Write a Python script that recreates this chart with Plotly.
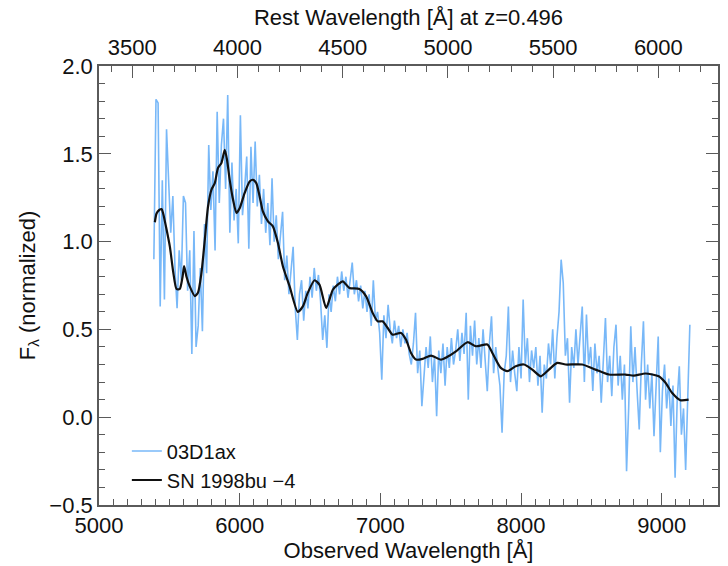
import numpy as np
import plotly.graph_objects as go

Z = 0.496

# Template spectrum SN 1998bu (-4 d): observed wavelength [A], normalized flux
tmpl_wave = [5397, 5409, 5428, 5445, 5456, 5480, 5504, 5527, 5551, 5574, 5594, 5605, 5622, 5645,
             5681, 5704, 5728, 5752, 5775, 5799, 5823, 5846, 5870, 5894, 5910, 5929, 5953, 5977,
             6000, 6035, 6071, 6094, 6118, 6142, 6165, 6201, 6236, 6272, 6307, 6355, 6413, 6449,
             6484, 6532, 6567, 6615, 6662, 6697, 6733, 6780, 6851, 6899, 6945, 6981, 7016, 7052,
             7087, 7147, 7182, 7218, 7253, 7300, 7360, 7430, 7477, 7537, 7619, 7679, 7761, 7796,
             7856, 7903, 7962, 8021, 8080, 8140, 8198, 8257, 8317, 8435, 8530, 8624, 8743, 8802,
             8885, 8979, 9027, 9073, 9132, 9191]
tmpl_flux = [1.11, 1.16, 1.18, 1.185, 1.16, 1.07, 0.97, 0.83, 0.73, 0.73, 0.80, 0.86, 0.80, 0.745,
             0.69, 0.71, 0.82, 1.01, 1.20, 1.295, 1.333, 1.42, 1.447, 1.523, 1.466, 1.352, 1.238, 1.163,
             1.19, 1.276, 1.342, 1.352, 1.333, 1.257, 1.172, 1.115, 1.087, 0.992, 0.86, 0.745, 0.60, 0.631,
             0.708, 0.78, 0.755, 0.622, 0.726, 0.755, 0.774, 0.736, 0.73, 0.688, 0.594, 0.546, 0.546, 0.508,
             0.47, 0.48, 0.442, 0.366, 0.328, 0.332, 0.351, 0.328, 0.344, 0.375, 0.427, 0.404, 0.414, 0.366,
             0.281, 0.262, 0.29, 0.30, 0.271, 0.233, 0.271, 0.309, 0.30, 0.30, 0.271, 0.243, 0.243, 0.237,
             0.249, 0.233, 0.196, 0.139, 0.097, 0.10]

# Observed spectrum 03D1ax: sampled every 15 A starting at 5390 A
obs_start = 5390
obs_step = 15
obs_flux = [
    0.90, 1.81, 1.79, 0.63, 1.35, 0.67, 1.64, 1.35,        # 5390
    1.05, 1.26, 0.85, 0.62, 0.95, 0.78,                    # 5510
    1.26, 1.22, 0.72, 0.95, 0.36, 1.06, 0.40,              # 5600
    0.52, 0.85, 0.49, 1.10, 0.82, 1.55, 1.18,              # 5705
    1.40, 0.95, 1.74, 1.22, 1.55, 1.70,                    # 5810
    1.30, 1.835, 1.05, 1.45, 1.12, 1.30, 0.99,             # 5900
    1.72, 1.15, 1.30, 1.485, 0.96, 1.54, 1.22,             # 6005
    1.57, 1.20, 1.38, 1.10, 1.30, 1.05,                    # 6110
    1.22, 0.98, 1.36, 1.00, 1.15, 0.90, 1.05,              # 6200
    1.17, 0.78, 0.92, 0.70, 0.85, 0.97, 0.62,              # 6305
    0.44, 0.70, 0.78, 0.55, 0.72, 0.62,                    # 6410
    0.80, 0.68, 0.85, 0.72, 0.81, 0.66, 0.44,              # 6500
    0.58, 0.395, 0.70, 0.60, 0.75, 0.66, 0.80,             # 6605
    0.70, 0.83, 0.72, 0.80, 0.68, 0.78,                    # 6710
    0.88, 0.70, 0.78, 0.66, 0.75, 0.62, 0.72,              # 6800
    0.60, 0.70, 0.52, 0.78, 0.55, 0.60, 0.48,              # 6905
    0.214, 0.58, 0.45, 0.64, 0.50, 0.42,                   # 7010
    0.55, 0.45, 0.52, 0.40, 0.50, 0.42, 0.48,              # 7100
    0.36, 0.30, 0.42, 0.594, 0.25, 0.38, 0.063,            # 7205
    0.22, 0.40, 0.28, 0.46, 0.20, 0.35,                    # 7310
    0.006, 0.38, 0.25, 0.42, 0.18, 0.40, 0.28,             # 7400
    0.45, 0.30, 0.38, 0.50, 0.32, 0.48, 0.36,              # 7505
    0.594, 0.10, 0.52, 0.35, 0.55, 0.30,                   # 7610
    0.45, 0.28, 0.50, 0.35, 0.148, 0.42, 0.575,            # 7700
    0.25, 0.40, 0.28, 0.18, -0.089, 0.25, 0.35,            # 7805
    0.63, 0.20, 0.38, 0.25, 0.148, 0.40,                   # 7910
    0.22, 0.67, 0.30, 0.45, 0.20, 0.38, 0.28,              # 8000
    0.40, 0.18, 0.35, 0.025, 0.30, 0.22, 0.42,             # 8105
    0.30, 0.50, 0.22, 0.45, 0.60, 0.897,                   # 8210
    0.764, 0.35, 0.45, 0.082, 0.40, 0.28, 0.50,            # 8300
    0.30, 0.45, 0.63, 0.20, 0.584, 0.30, 0.40,             # 8405
    0.15, 0.42, 0.25, 0.35, 0.082, 0.30,                   # 8510
    0.565, 0.20, 0.35, 0.12, 0.40, 0.527, 0.18,            # 8600
    0.35, 0.10, 0.30, -0.307, 0.05, 0.518, 0.20,           # 8705
    0.40, 0.15, -0.07, 0.30, 0.546, 0.10,                  # 8810
    0.30, 0.05, 0.25, -0.108, 0.20, 0.46, -0.20,           # 8900
    0.15, 0.30, 0.05, 0.22, -0.05, 0.18, -0.345,           # 9005
    0.10, 0.29, -0.10, 0.05, -0.30, 0.15, 0.527,           # 9110
]
assert len(obs_flux) == 255
obs_wave = obs_start + obs_step * np.arange(len(obs_flux))

x_range = [5000, 9400]
y_range = [-0.5, 2.0]

FONT = "Liberation Sans, Arial, Helvetica, sans-serif"
AX = "#5a5a5a"

fig = go.Figure()
fig.add_trace(go.Scatter(x=obs_wave, y=obs_flux, mode="lines", name="03D1ax",
                         line=dict(color="#78b8f8", width=1.6)))
fig.add_trace(go.Scatter(x=tmpl_wave, y=tmpl_flux, mode="lines", name="SN 1998bu \u22124",
                         line=dict(color="#111111", width=2.2, shape="spline", smoothing=0.6)))
# invisible trace to drive the rest-frame axis
fig.add_trace(go.Scatter(x=[x_range[0] / (1 + Z), x_range[1] / (1 + Z)], y=[None, None],
                         xaxis="x2", mode="lines", showlegend=False, hoverinfo="skip"))

common = dict(showline=True, linecolor=AX, linewidth=1.6, ticks="inside", tickcolor=AX,
              tickwidth=1.4, ticklen=12, showgrid=False, zeroline=False,
              tickfont=dict(size=22, color="#111"))

fig.update_layout(
    width=728, height=566,
    margin=dict(l=99, r=8, t=66, b=61),
    paper_bgcolor="white", plot_bgcolor="white",
    font=dict(family=FONT, size=22, color="#111"),
    xaxis=dict(range=x_range, dtick=1000, tick0=5000,
               minor=dict(dtick=100, ticklen=6, ticks="inside", tickcolor=AX, tickwidth=1.2),
               title=dict(text="Observed Wavelength [Å]", font=dict(size=22), standoff=4),
               **common),
    xaxis2=dict(range=[x_range[0] / (1 + Z), x_range[1] / (1 + Z)], overlaying="x", side="top",
                anchor="y", dtick=500, tick0=3500,
                minor=dict(dtick=100, ticklen=6, ticks="inside", tickcolor=AX, tickwidth=1.2),
                title=dict(text="Rest Wavelength [Å] at z=0.496", font=dict(size=22), standoff=4),
                **common),
    yaxis=dict(range=y_range, dtick=0.5, tick0=0, tickformat=".1f", mirror="ticks",
               minor=dict(dtick=0.1, ticklen=6, ticks="inside", tickcolor=AX, tickwidth=1.2),
               title=dict(text="F<sub>λ</sub> (normalized)", font=dict(size=22), standoff=8),
               **common),
    legend=dict(x=0.045, y=0.09, xanchor="left", yanchor="middle", bgcolor="rgba(0,0,0,0)",
                font=dict(size=20, color="#111"), tracegroupgap=0),
    showlegend=True,
)

fig.write_html("out.html")
